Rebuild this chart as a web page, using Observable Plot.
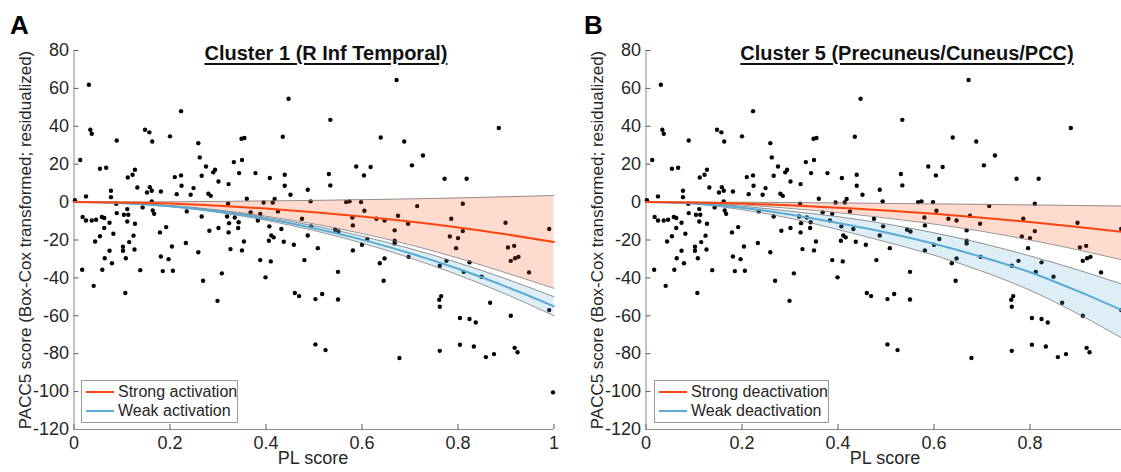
<!DOCTYPE html>
<html>
<head>
<meta charset="utf-8">
<script src="https://cdn.jsdelivr.net/npm/d3@7"></script>
<script src="https://cdn.jsdelivr.net/npm/@observablehq/plot@0.6"></script>
<style>
  html, body { margin: 0; padding: 0; background: #fff; overflow: hidden; }
  #wrap { position: relative; width: 1121px; height: 472px; overflow: hidden;
          font-family: Helvetica, Arial, "Liberation Sans", sans-serif; color: #262626; }
  #wrap svg { position: absolute; top: 0; }
  .abs { position: absolute; white-space: nowrap; }
  .letter { font-weight: bold; font-size: 26px; color: #000; }
  .title { font-weight: bold; font-size: 20px; color: #111; text-decoration: underline;
           text-underline-offset: 3px; text-decoration-thickness: 1.5px; transform: translateX(-50%); }
  .xlab { font-size: 18px; transform: translateX(-50%); }
  .ylab { font-size: 17px; transform: translate(-50%, -50%) rotate(-90deg); }
  .legend { background: #fff; border: 1px solid #999; box-sizing: border-box; font-size: 16px; }
  .legrow { position: absolute; left: 4px; display: flex; align-items: center; }
  .legrow span.sw { display: inline-block; width: 28px; height: 2px; margin-right: 4px; }
</style>
</head>
<body>
<div id="wrap"></div>
<script>
// ---------------- data ----------------
const xTicks = [0, 0.2, 0.4, 0.6, 0.8, 1];
const xTicksB = [0, 0.2, 0.4, 0.6, 0.8];   // panel B is cropped just before 1
const yTicks = [-120, -100, -80, -60, -40, -20, 0, 20, 40, 60, 80];

// scatter (same participants in both panels)
const ptsX = [0.002,0.031,0.034,0.037,0.013,0.025,0.054,0.067,0.018,0.025,0.037,0.046,0.058,0.063,0.054,0.063,0.074,0.082,0.077,0.077,
  0.089,0.089,0.088,0.104,0.111,0.113,0.111,0.127,0.124,0.112,0.122,0.127,0.132,0.148,0.157,0.163,0.143,0.152,0.158,0.162,
  0.162,0.164,0.167,0.181,0.179,0.192,0.200,0.210,0.223,0.223,0.224,0.214,0.235,0.243,0.249,0.259,0.262,0.266,0.275,0.266,
  0.280,0.290,0.294,0.282,0.285,0.301,0.301,
  0.322,0.321,0.333,0.344,0.350,0.349,0.355,0.360,0.378,0.368,0.388,0.383,0.395,0.408,0.414,0.418,0.425,0.435,0.439,0.439,
  0.451,0.447,0.475,0.487,0.493,0.432,0.407,0.411,0.416,0.323,0.319,0.335,0.343,0.342,0.322,0.534,0.531,0.534,0.588,0.604,
  0.567,0.574,0.598,0.605,0.580,0.581,0.544,0.551,0.494,0.487,
  0.639,0.672,0.885,0.688,0.727,0.704,0.618,0.772,0.818,0.630,0.647,0.668,0.675,0.696,0.715,0.786,0.810,0.810,0.899,0.783,
  0.800,0.990,
  0.044,0.017,0.041,0.059,0.064,0.074,0.079,0.102,0.102,0.108,0.107,0.115,0.126,0.138,0.181,0.185,0.197,0.204,0.206,0.233,
  0.259,0.269,0.299,
  0.354,0.326,0.350,0.308,0.388,0.410,0.399,0.406,0.437,0.458,0.480,0.508,0.460,0.469,0.503,0.517,0.550,0.550,0.503,0.524,
  0.581,0.600,
  0.611,0.668,0.668,0.796,0.904,0.917,0.910,0.919,0.926,0.647,0.637,0.645,0.697,0.762,0.776,0.812,0.824,0.849,0.761,0.765,
  0.762,0.867,0.804,0.824,0.837,0.910,0.762,0.804,0.833,0.858,0.875,0.918,0.924,0.678,0.990,0.998,0.948];
const ptsY = [1.0,61.9,38.2,36.1,22.2,3.0,17.6,18.1,-7.9,-9.7,-9.7,-9.3,-7.9,-8.4,-18.0,-13.7,-10.9,-16.7,6.0,2.6,
  32.5,-5.8,-0.9,-6.7,-3.7,-6.7,-10.2,-11.4,-17.7,13.0,14.4,17.1,7.7,38.2,36.8,32.0,-2.8,5.1,7.9,6.0,
  0.4,-4.4,-6.2,5.6,-16.0,-13.2,34.7,13.2,14.1,48.0,8.6,4.2,-4.9,3.9,7.4,31.1,23.6,13.9,18.8,-7.6,
  4.4,15.7,17.1,-15.1,3.3,10.9,-13.7,
  9.5,-0.9,21.1,15.3,22.2,33.4,33.8,1.8,15.3,-5.4,-6.2,-9.7,-0.2,12.7,-0.2,1.6,-4.9,34.5,14.4,8.6,
  3.9,54.5,-8.8,6.5,0.4,-14.2,-12.8,-17.6,-18.6,-11.1,-7.6,-8.1,-10.6,-13.7,-16.0,43.4,14.8,8.8,18.8,14.1,
  0.0,0.4,0.0,-4.6,-8.1,-12.3,-14.6,-15.5,-12.8,-17.6,
  34.1,64.4,39.1,32.0,24.6,19.4,18.5,12.3,12.3,-8.8,-9.7,-14.9,-7.2,-11.4,-2.1,-8.8,-0.9,-15.3,-10.9,-18.1,
  -19.0,-14.2,
  -20.8,-35.7,-44.2,-35.7,-29.6,-25.7,-32.3,-23.6,-25.7,-29.6,-48.0,-21.1,-25.0,-35.9,-28.7,-36.4,-30.1,-23.4,-36.2,-21.6,
  -26.5,-41.5,-52.1,
  -20.8,-24.8,-25.5,-37.6,-30.6,-31.3,-39.7,-20.4,-20.9,-22.5,-30.6,-24.3,-48.0,-49.6,-51.2,-48.5,-36.8,-51.4,-75.1,-78.1,
  -25.5,-22.5,
  -19.5,-20.4,-21.8,-24.3,-23.9,-23.1,-31.0,-29.6,-28.9,-29.7,-32.3,-41.5,-28.9,-33.6,-31.0,-36.8,-31.8,-39.4,-51.5,-49.6,
  -55.2,-53.1,-61.2,-61.7,-63.5,-60.0,-78.5,-75.3,-76.2,-81.8,-80.2,-76.9,-79.2,-82.3,-57.0,-100.4,-37.1];

// model curves, read at these PL scores
const curveX = [0, 0.1, 0.2, 0.3, 0.4, 0.5, 0.6, 0.7, 0.8, 0.9, 1.0];
// Panel A – Cluster 1
const aStrongFit = [0, -0.2, -0.8, -1.9, -3.4, -5.3, -7.6, -10.3, -13.4, -17.0, -21.0];
const aStrongHi  = [0, 0.05, 0.15, 0.35, 0.6, 0.9, 1.3, 1.7, 2.2, 2.8, 3.5];
const aStrongLo  = [0, -0.45, -1.8, -4.1, -7.4, -11.5, -16.6, -22.5, -29.5, -37.3, -45.5];
const aWeakFit   = [0, -0.55, -2.2, -5.0, -8.8, -13.8, -19.8, -27.0, -35.2, -44.6, -55.0];
const aWeakHi    = [0, -0.5, -2.0, -4.5, -8.0, -12.5, -18.0, -24.5, -32.0, -40.5, -50.0];
const aWeakLo    = [0, -0.6, -2.4, -5.4, -9.6, -15.0, -21.6, -29.4, -38.4, -48.6, -60.0];
// Panel B – Cluster 5
const bStrongFit = [0, -0.2, -0.8, -1.7, -3.0, -4.4, -6.2, -8.2, -10.5, -13.1, -16.0];
const bStrongHi  = [0, -0.02, -0.1, -0.25, -0.45, -0.7, -0.95, -1.2, -1.5, -1.8, -2.1];
const bStrongLo  = [0, -0.35, -1.5, -3.3, -5.6, -8.4, -11.6, -15.4, -20.0, -25.2, -31.0];
const bWeakFit   = [0, -0.8, -3.0, -6.5, -11.0, -16.0, -22.0, -29.0, -37.0, -47.0, -58.0];
const bWeakHi    = [0, -0.5, -2.2, -4.8, -7.7, -11.5, -16.2, -21.8, -28.4, -35.8, -44.0];
const bWeakLo    = [0, -1.0, -4.0, -8.5, -14.5, -21.0, -28.0, -36.5, -46.5, -59.0, -73.0];

const strongColor = "#FF4410";
const weakColor = "#5AAAD4";

// ---------------- drawing ----------------
const points = ptsX.map((x, i) => ({x, y: ptsY[i]}));
const curve = (fit, hi, lo) => curveX.map((x, i) => ({x, fit: fit[i], hi: hi[i], lo: lo[i]}));
const fmtX = d => String(+d.toFixed(1));
const fmtY = d => String(d);

function panel(width, marginLeft, ticksX, strong, weak) {
  const bandMarks = (c, color) => [
    Plot.areaY(c, {x: "x", y1: "lo", y2: "hi", fill: color, fillOpacity: 0.2, curve: "monotone-x"}),
    Plot.line(c, {x: "x", y: "hi", stroke: "#7a7a7a", strokeWidth: 0.8, curve: "monotone-x"}),
    Plot.line(c, {x: "x", y: "lo", stroke: "#7a7a7a", strokeWidth: 0.8, curve: "monotone-x"})
  ];
  return Plot.plot({
    width, height: 472,
    marginLeft, marginRight: width - marginLeft - 480, marginTop: 50, marginBottom: 43,
    x: {domain: [0, 1]},
    y: {domain: [-120, 80]},
    style: {fontFamily: 'Helvetica, Arial, "Liberation Sans", sans-serif', fontSize: "18px", color: "#262626", background: "transparent", overflow: "visible"},
    marks: [
      Plot.axisX(ticksX, {tickSize: -5, tickPadding: 12, tickFormat: fmtX, label: null, stroke: "#555", fill: "#262626", fontSize: 18}),
      Plot.axisY(yTicks, {tickSize: -5, tickPadding: 10, tickFormat: fmtY, label: null, stroke: "#555", fill: "#262626", fontSize: 18}),
      Plot.ruleX([0], {stroke: "#888"}),
      Plot.ruleY([-120], {stroke: "#888"}),
      Plot.dot(points, {x: "x", y: "y", r: 2.2, fill: "#000", stroke: null}),
      ...bandMarks(strong, strongColor),
      ...bandMarks(weak, weakColor),
      Plot.line(weak, {x: "x", y: "fit", stroke: weakColor, strokeWidth: 2, curve: "monotone-x"}),
      Plot.line(strong, {x: "x", y: "fit", stroke: strongColor, strokeWidth: 2, curve: "monotone-x"})
    ]
  });
}

const wrap = document.getElementById("wrap");
const svgA = panel(560, 73.5, xTicks, curve(aStrongFit, aStrongHi, aStrongLo), curve(aWeakFit, aWeakHi, aWeakLo));
svgA.style.left = "0px";
wrap.appendChild(svgA);
const svgB = panel(566, 85.5, xTicksB, curve(bStrongFit, bStrongHi, bStrongLo), curve(bWeakFit, bWeakHi, bWeakLo));
svgB.style.left = "560px";
wrap.appendChild(svgB);

function addDiv(cls, text, css) {
  const d = document.createElement("div");
  d.className = "abs " + cls;
  if (text) d.textContent = text;
  Object.assign(d.style, css);
  wrap.appendChild(d);
  return d;
}
function legend(left, width, labels) {
  const box = addDiv("legend", "", {left: left + "px", top: "380px", width: width + "px", height: "43px"});
  labels.forEach((lab, i) => {
    const row = document.createElement("div");
    row.className = "legrow";
    row.style.top = (i === 0 ? 1 : 20) + "px";
    row.style.height = "20px";
    row.innerHTML = `<span class="sw" style="background:${i === 0 ? strongColor : weakColor}"></span><span>${lab}</span>`;
    box.appendChild(row);
  });
}

addDiv("letter", "A", {left: "10px", top: "10px"});
addDiv("letter", "B", {left: "584px", top: "10px"});
addDiv("title", "Cluster 1 (R Inf Temporal)", {left: "326px", top: "42px"});
addDiv("title", "Cluster 5 (Precuneus/Cuneus/PCC)", {left: "907px", top: "42px"});
addDiv("xlab", "PL score", {left: "313px", top: "448px"});
addDiv("xlab", "PL score", {left: "885px", top: "448px"});
addDiv("ylab", "PACC5 score (Box-Cox transformed; residualized)", {left: "26px", top: "240px"});
addDiv("ylab", "PACC5 score (Box-Cox transformed; residualized)", {left: "598px", top: "240px"});
legend(81, 157, ["Strong activation", "Weak activation"]);
legend(654, 175, ["Strong deactivation", "Weak deactivation"]);
</script>
</body>
</html>
